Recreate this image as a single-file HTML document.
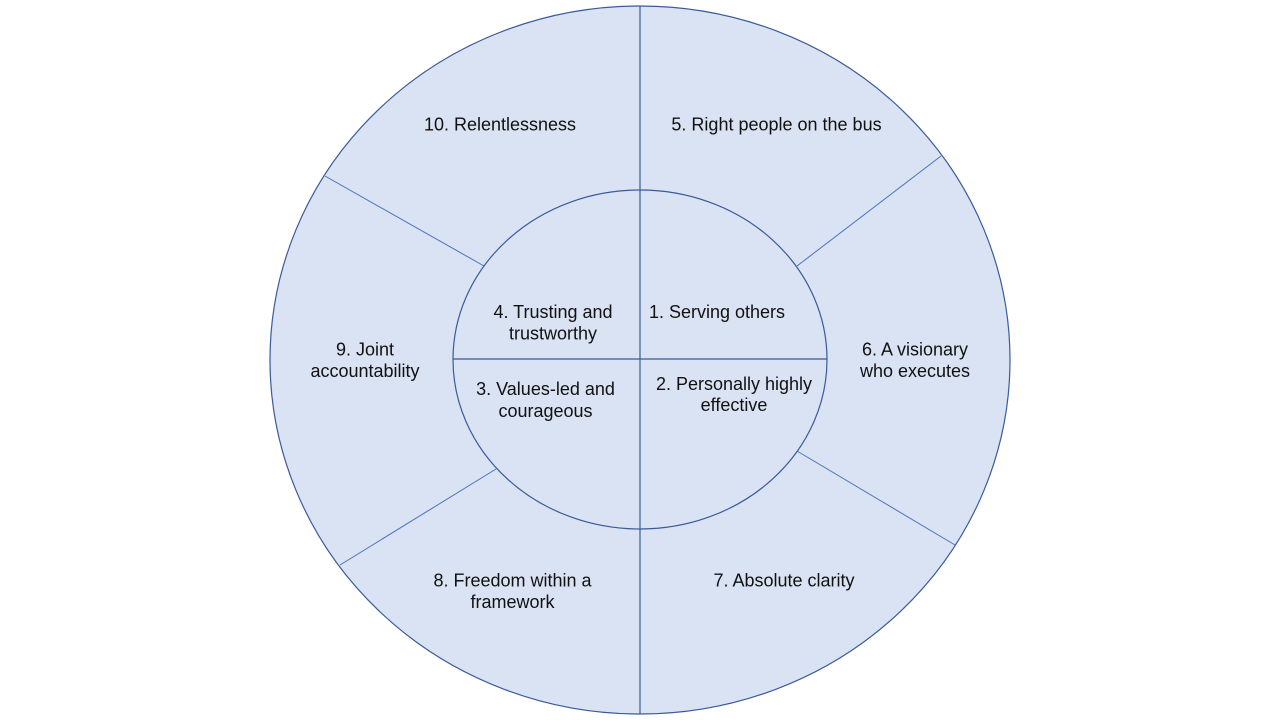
<!DOCTYPE html>
<html>
<head>
<meta charset="utf-8">
<style>
  html, body { margin: 0; padding: 0; background: #ffffff; }
  body { width: 1280px; height: 720px; overflow: hidden; }
  svg { display: block; }
  text { font-family: "Liberation Sans", Arial, sans-serif; font-size: 18px; fill: #111111; }
</style>
</head>
<body>
<svg width="1280" height="720" viewBox="0 0 1280 720" xmlns="http://www.w3.org/2000/svg">
  <rect x="0" y="0" width="1280" height="720" fill="#ffffff"/>
  <!-- outer ellipse -->
  <ellipse cx="640" cy="360" rx="370" ry="354" fill="#dae3f3" stroke="#3b5a9a" stroke-width="1.2"/>
  <!-- radial lines -->
  <g stroke="#4a72c0" stroke-width="1">
    <line x1="941" y1="156" x2="797" y2="266"/>
    <line x1="955" y1="545" x2="797" y2="451"/>
    <line x1="325" y1="176" x2="484" y2="266"/>
    <line x1="340" y1="565" x2="496" y2="469"/>
  </g>
  <!-- vertical line (outer parts) -->
  <line x1="640" y1="6" x2="640" y2="714" stroke="#3b5a9a" stroke-width="1.2"/>
  <!-- inner ellipse -->
  <ellipse cx="640" cy="359.5" rx="187" ry="169.5" fill="#dae3f3" stroke="#3b5a9a" stroke-width="1.2"/>
  <line x1="640" y1="190" x2="640" y2="529" stroke="#3b5a9a" stroke-width="1.2"/>
  <line x1="453" y1="359" x2="827" y2="359" stroke="#3b5a9a" stroke-width="1.2"/>

  <!-- labels -->
  <g text-anchor="middle">
    <text x="500" y="130.5">10. Relentlessness</text>
    <text x="776.5" y="130.5">5. Right people on the bus</text>

    <text x="553" y="318">4. Trusting and</text>
    <text x="553" y="339.5">trustworthy</text>

    <text x="717" y="318">1. Serving others</text>

    <text x="545.5" y="395">3. Values-led and</text>
    <text x="545.5" y="417">courageous</text>

    <text x="734" y="390">2. Personally highly</text>
    <text x="734" y="411">effective</text>

    <text x="365" y="355.5">9. Joint</text>
    <text x="365" y="377">accountability</text>

    <text x="915" y="355.5">6. A visionary</text>
    <text x="915" y="377">who executes</text>

    <text x="512.5" y="586.5">8. Freedom within a</text>
    <text x="512.5" y="608">framework</text>

    <text x="784" y="586.5">7. Absolute clarity</text>
  </g>
</svg>
</body>
</html>
